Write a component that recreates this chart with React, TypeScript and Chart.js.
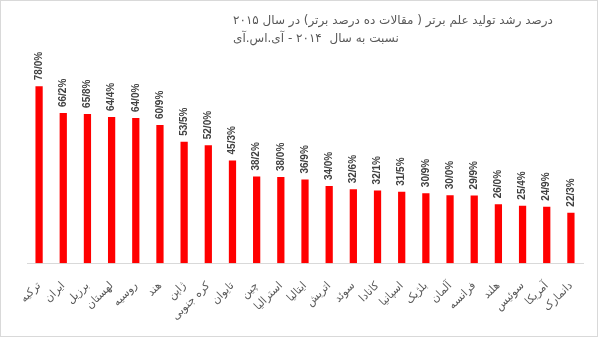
import React, { useEffect, useRef } from 'react';
import { Chart, registerables } from 'chart.js';

Chart.register(...registerables);

const categories: string[] = [
  'ترکیه', 'ایران', 'برزیل', 'لهستان', 'روسیه', 'هند', 'ژاپن', 'کره جنوبی',
  'تایوان', 'چین', 'استرالیا', 'ایتالیا', 'اتریش', 'سوئد', 'کانادا', 'اسپانیا',
  'بلژیک', 'آلمان', 'فرانسه', 'هلند', 'سوئیس', 'آمریکا', 'دانمارک',
];
const growth = [
  78.0, 66.2, 65.8, 64.4, 64.0, 60.9, 53.5, 52.0, 45.3, 38.2, 38.0, 36.9,
  34.0, 32.6, 32.1, 31.5, 30.9, 30.0, 29.9, 26.0, 25.4, 24.9, 22.3,
];
const titleLines = [
  'درصد رشد تولید علم برتر ( مقالات ده درصد برتر) در سال ۲۰۱۵',
  'نسبت به سال  ۲۰۱۴ - آی.اس.آی',
];

const fmt = (v: number) => v.toFixed(1).replace('.', '/') + '%';

const valueLabels = {
  id: 'valueLabels',
  afterDatasetsDraw(chart: any) {
    const ctx = chart.ctx;
    const meta = chart.getDatasetMeta(0);
    ctx.save();
    ctx.font = 'bold 10px "Liberation Sans Narrow", "Liberation Sans", sans-serif';
    ctx.fillStyle = '#404040';
    ctx.textAlign = 'left';
    ctx.textBaseline = 'middle';
    meta.data.forEach((bar: any, i: number) => {
      ctx.save();
      ctx.translate(bar.x, bar.y - 6);
      ctx.rotate(-Math.PI / 2);
      ctx.fillText(fmt(growth[i]), 0, 0);
      ctx.restore();
    });
    ctx.restore();
  },
};

export default function App() {
  const canvasRef = useRef<HTMLCanvasElement | null>(null);

  useEffect(() => {
    document.body.style.margin = '0';
    const canvas = canvasRef.current;
    if (!canvas) return;
    const chart = new Chart(canvas, {
      type: 'bar',
      data: {
        labels: categories,
        datasets: [
          {
            data: growth,
            backgroundColor: '#ff0000',
            borderWidth: 0,
            barPercentage: 0.3,
            categoryPercentage: 1,
          },
        ],
      },
      options: {
        animation: false,
        responsive: false,
        maintainAspectRatio: false,
        layout: { padding: { left: 26, right: 14, top: 58, bottom: 5 } },
        plugins: {
          legend: { display: false },
          tooltip: { enabled: false },
          title: { display: false },
        },
        scales: {
          x: {
            grid: { display: false },
            border: { display: true, color: '#d9d9d9', width: 1 },
            ticks: {
              color: '#595959',
              font: { family: '"DejaVu Sans", sans-serif', size: 11 },
              maxRotation: 45,
              minRotation: 45,
              autoSkip: false,
              padding: 8,
            },
          },
          y: {
            display: false,
            min: 0,
            max: 90,
          },
        },
      },
      plugins: [valueLabels],
    });
    return () => chart.destroy();
  }, []);

  return (
    <div
      style={{
        position: 'relative',
        width: 598,
        height: 337,
        boxSizing: 'border-box',
        border: '1px solid #d9d9d9',
        background: '#fff',
      }}
    >
      <div
        dir="rtl"
        style={{
          position: 'absolute',
          left: 232,
          top: 10,
          textAlign: 'left',
          fontFamily: '"DejaVu Sans", sans-serif',
          fontSize: 12,
          color: '#595959',
          lineHeight: '18px',
          whiteSpace: 'pre',
          letterSpacing: 1,
        }}
      >
        {titleLines.map((t, i) => (
          <div key={i}>{t}</div>
        ))}
      </div>
      <canvas ref={canvasRef} width={596} height={335} />
    </div>
  );
}
